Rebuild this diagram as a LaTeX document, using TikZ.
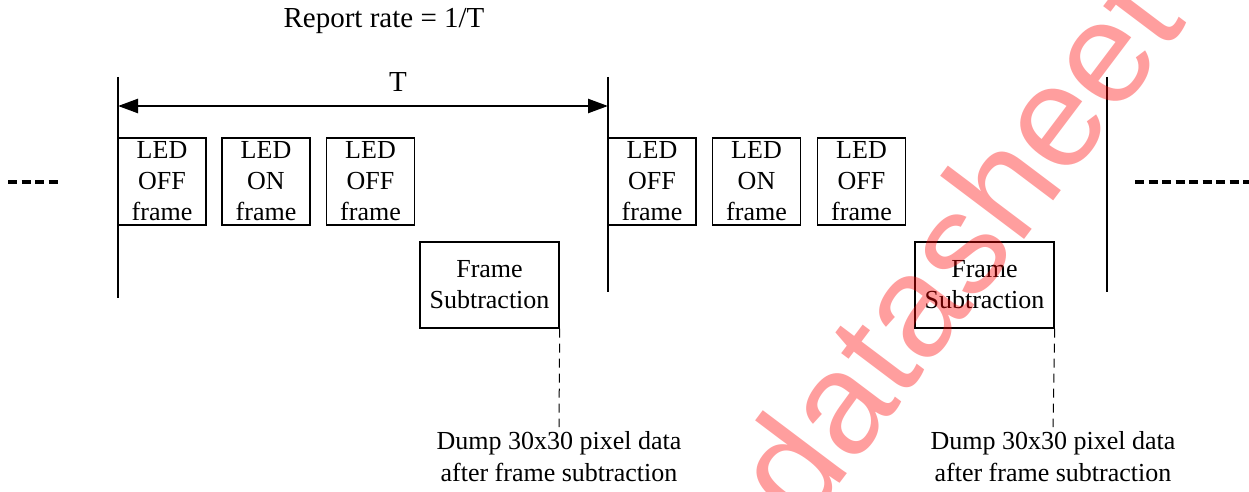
\documentclass[tikz,border=0pt]{standalone}
\usepackage{fontspec}
\setmainfont{Liberation Serif}
\newfontfamily\wmfont{Liberation Sans}
\usetikzlibrary{arrows.meta}
\begin{document}
\begin{tikzpicture}[x=1pt,y=-1pt,
  frm/.style={draw,line width=1.3pt,inner sep=0pt,minimum width=88pt,minimum height=87pt,align=center,font=\fontsize{26}{31}\selectfont},
  sub/.style={draw,line width=1.3pt,inner sep=0pt,minimum width=139pt,minimum height=86pt,align=center,font=\fontsize{26}{31}\selectfont},
  bar/.style={line width=2.8pt},
  dots/.style={line width=4pt,dash pattern=on 9pt off 4.5pt},
  lbl/.style={font=\fontsize{26}{32}\selectfont,align=center,inner sep=0pt},
  ttl/.style={font=\fontsize{29}{31}\selectfont,inner sep=0pt}]
\useasboundingbox (0,0) rectangle (1249,492);
% vertical bars
\coordinate (l1t) at (118,77); \coordinate (l1b) at (118,298);
\coordinate (l2t) at (608,77); \coordinate (l2b) at (608,292);
\coordinate (l3t) at (1107,77); \coordinate (l3b) at (1107,292);
\draw[bar] (l1t) -- (l1b);
\draw[bar] (l2t) -- (l2b);
\draw[bar] (l3t) -- (l3b);
% T arrow
\coordinate (al) at (118,106); \coordinate (ar) at (608,106);
\draw[line width=2.4pt,{Triangle[length=20pt,width=14pt]}-{Triangle[length=20pt,width=14pt]}] (al) -- (ar);
\node[ttl] (T) at (398,82) {T};
\node[ttl] (title) at (384,21) {Report rate = 1/T};
% frames
\node[frm] (f1) at (162,181.5) {LED\\OFF\\frame};
\node[frm] (f2) at (266,181.5) {LED\\ON\\frame};
\node[frm] (f3) at (370.5,181.5) {LED\\OFF\\frame};
\node[sub] (s1) at (489.5,285) {Frame\\Subtraction};
\node[frm] (f4) at (652,181.5) {LED\\OFF\\frame};
\node[frm] (f5) at (756.5,181.5) {LED\\ON\\frame};
\node[frm] (f6) at (861.5,181.5) {LED\\OFF\\frame};
\node[sub] (s2) at (984.5,285) {Frame\\Subtraction};
% dashed leaders
\coordinate (d1) at (559,427);
\coordinate (d2) at (1053,427);
\draw[line width=1pt,dash pattern=on 9pt off 6pt] (s1.south east) -- (d1);
\draw[line width=1pt,dash pattern=on 9pt off 6pt] (s2.south east) -- (d2);
\node[lbl,anchor=north] (t1) at ([yshift=-4pt]d1) {Dump 30x30 pixel data\\after frame subtraction};
\node[lbl,anchor=north] (t2) at ([yshift=-4pt]d2) {Dump 30x30 pixel data\\after frame subtraction};
% continuation dots
\coordinate (p1) at (8,182); \coordinate (p2) at (60,182);
\coordinate (p3) at (1135,182); \coordinate (p4) at (1249,182);
\draw[dots] (p1) -- (p2);
\draw[dots] (p3) -- (p4);
% watermark
\node[text=red,opacity=0.38,rotate=53,font=\wmfont\fontsize{145}{145}\selectfont,inner sep=0pt] (wm) at (955,245) {datasheet};
\end{tikzpicture}
\end{document}
